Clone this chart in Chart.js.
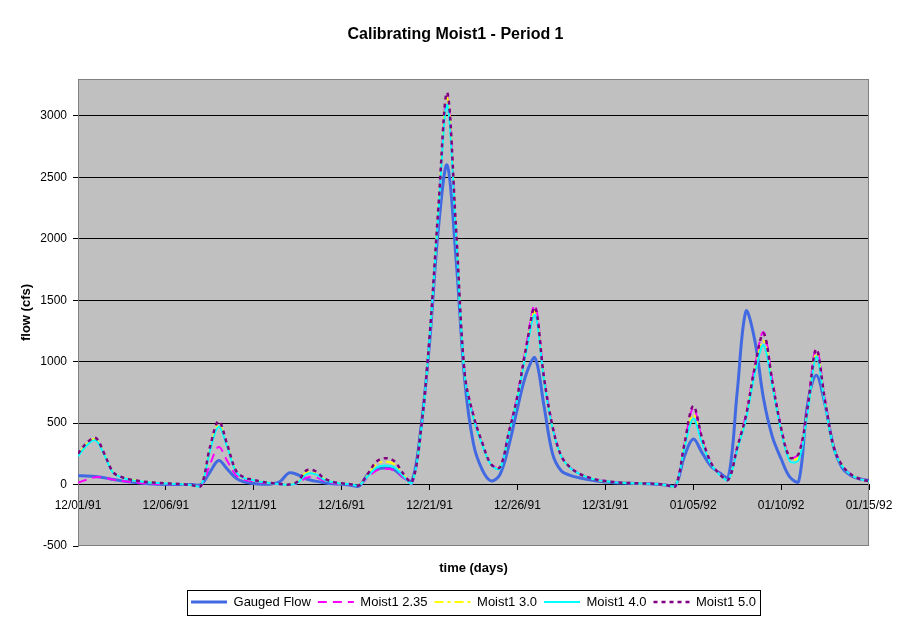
<!DOCTYPE html>
<html>
<head>
<meta charset="utf-8">
<script src="https://cdn.jsdelivr.net/npm/chart.js@4"></script>
<style>
  body { margin: 0; background: #fff; }
  canvas { display: block; }
</style>
</head>
<body>
<canvas id="flow-chart" width="911" height="623"></canvas>
<script>
// days since 12/01/91
const days = [0,0.5,1,1.5,2,2.5,3,3.5,4,4.5,5,5.5,6,6.5,7,7.5,8,8.5,9,9.5,
  10,10.5,11,11.5,12,12.5,13,13.5,14,14.5,15,15.5,16,16.5,17,17.5,18,18.5,19,19.5,
  20,20.5,21,21.5,22,22.5,23,23.5,24,24.5,25,25.5,26,26.5,27,27.5,28,28.5,29,29.5,
  30,30.5,31,31.5,32,32.5,33,33.5,34,34.5,35,35.5,36,36.5,37,37.5,38,38.5,39,39.5,
  40,40.5,41,41.5,42,42.5,43,43.5,44,44.5,45];

const yTicks = [-500, 0, 500, 1000, 1500, 2000, 2500, 3000];

const gaugedFlow = [
  72, 70, 65, 55, 42, 30, 20, 12, 7, 3,
  1, 0, 0, 0, 0, 100, 195, 125, 50, 20,
  8, 3, 5, 25, 95, 80, 45, 28, 15, 6,
  2, -5, -12, 85, 125, 135, 120, 60, 30, 450,
  1150, 2080, 2600, 1850, 850, 330, 120, 30, 80, 310,
  620, 900, 1030, 650, 250, 110, 75, 55, 40, 28,
  20, 15, 12, 10, 8, 6, 3, -5, -8, 230,
  370, 260, 150, 95, 60, 750, 1410, 1175, 700, 390,
  210, 60, 25, 650, 890, 650, 300, 130, 70, 45,
  33];

const moist235 = [
  15, 40, 60, 55, 40, 28, 20, 13, 8, 5,
  3, 2, 1, -3, -8, 160, 305, 190, 75, 38,
  25, 15, 8, 3, 0, 10, 55, 60, 30, 12,
  5, 1, -5, 60, 115, 128, 115, 60, 8, 400,
  1170, 2200, 3160, 2080, 900, 560, 330, 165, 140, 425,
  730, 1130, 1460, 890, 475, 232, 140, 90, 60, 40,
  28, 20, 15, 12, 10, 8, 5, -5, -12, 330,
  620, 375, 180, 85, 40, 300, 570, 960, 1240, 850,
  465, 222, 250, 625, 1110, 685, 300, 150, 80, 45,
  27];

const moist30 = [
  240, 330, 370, 245, 98, 59, 39, 27, 19, 13,
  9, 5, 2, -5, -10, 285, 490, 310, 105, 52,
  36, 21, 11, 4, -1, 20, 100, 98, 45, 20,
  9, 2, -5, 80, 170, 185, 165, 80, 15, 420,
  1190, 2230, 3150, 2080, 890, 550, 325, 162, 135, 415,
  710, 1100, 1410, 870, 462, 228, 138, 89, 59, 39,
  27, 19, 14, 11, 9, 7, 4, -5, -12, 315,
  570, 355, 175, 82, 39, 290, 545, 925, 1170, 820,
  450, 205, 225, 600, 1070, 665, 295, 148, 79, 45,
  26];

const moist40 = [
  230, 320, 360, 240, 95, 58, 38, 26, 18, 12,
  8, 5, 2, -5, -10, 270, 470, 300, 100, 50,
  35, 20, 10, 3, -2, 15, 85, 85, 40, 18,
  8, 2, -5, 70, 140, 155, 140, 70, 12, 410,
  1180, 2200, 3090, 2050, 880, 540, 320, 160, 130, 410,
  700, 1080, 1380, 860, 455, 225, 135, 88, 58, 38,
  27, 19, 14, 11, 9, 7, 4, -5, -12, 300,
  535, 340, 170, 80, 38, 280, 530, 900, 1135, 800,
  440, 190, 200, 580, 1040, 650, 290, 145, 78, 44,
  26];

const moist50 = [
  250, 340, 380, 250, 100, 60, 40, 28, 20, 14,
  10, 6, 3, -5, -10, 300, 515, 320, 110, 55,
  38, 22, 12, 5, 0, 25, 115, 110, 50, 22,
  10, 3, -5, 90, 190, 215, 190, 90, 20, 430,
  1200, 2250, 3190, 2100, 900, 560, 340, 165, 140, 420,
  720, 1120, 1440, 880, 470, 230, 140, 90, 60, 40,
  28, 20, 15, 12, 10, 8, 5, -5, -12, 330,
  640, 380, 180, 85, 40, 300, 560, 950, 1230, 840,
  460, 220, 250, 620, 1100, 680, 300, 150, 80, 45,
  27];

const startDate = Date.UTC(1991, 11, 1);
const pad = (n) => String(n).padStart(2, '0');
function dayLabel(v) {
    const d = new Date(startDate + v * 86400000);
    return pad(d.getUTCMonth() + 1) + '/' + pad(d.getUTCDate()) + '/' + String(d.getUTCFullYear()).slice(2);
}

Chart.defaults.font.family = "'Liberation Sans', Arial, sans-serif";
Chart.defaults.color = '#000';

// gray plot area with a thin border, like the old spreadsheet chart
const plotBackground = {
    id: 'plotBackground',
    beforeDraw(chart) {
        const {ctx, chartArea: a} = chart;
        ctx.save();
        ctx.fillStyle = '#C0C0C0';
        ctx.fillRect(a.left, a.top, a.right - a.left, a.bottom - a.top);
        ctx.restore();
    },
    beforeDatasetsDraw(chart) {
        const {ctx, chartArea: a} = chart;
        ctx.save();
        ctx.strokeStyle = '#808080';
        ctx.lineWidth = 1;
        ctx.strokeRect(Math.round(a.left) + 0.5, Math.round(a.top) + 0.5,
            Math.round(a.right - a.left) - 1, Math.round(a.bottom - a.top) - 1);
        ctx.restore();
    }
};

// box around the legend
const legendFrame = {
    id: 'legendFrame',
    afterDraw(chart) {
        const boxes = chart.legend && chart.legend.legendHitBoxes;
        if (!boxes || !boxes.length) return;
        const left = Math.min(...boxes.map(b => b.left)) - 4;
        const right = Math.max(...boxes.map(b => b.left + b.width)) + 4;
        const top = boxes[0].top - 6;
        const bottom = boxes[0].top + boxes[0].height + 6;
        const ctx = chart.ctx;
        ctx.save();
        ctx.strokeStyle = '#000';
        ctx.lineWidth = 1;
        ctx.strokeRect(Math.round(left) + 0.5, Math.round(top) + 0.5, Math.round(right - left), Math.round(bottom - top));
        ctx.restore();
    }
};

const lineBase = {
    pointRadius: 0,
    pointHoverRadius: 0,
    pointStyle: 'line',
    tension: 0.35,
    fill: false
};

new Chart(document.getElementById('flow-chart'), {
    type: 'line',
    data: {
        labels: days,
        datasets: [
            Object.assign({}, lineBase, {label: 'Gauged Flow', data: gaugedFlow, borderColor: '#4169E1', backgroundColor: '#4169E1', borderWidth: 3, order: 5}),
            Object.assign({}, lineBase, {label: 'Moist1 2.35', data: moist235, borderColor: '#FF00FF', backgroundColor: '#FF00FF', borderWidth: 2, borderDash: [9, 6], order: 4}),
            Object.assign({}, lineBase, {label: 'Moist1 3.0', data: moist30, borderColor: '#FFFF00', backgroundColor: '#FFFF00', borderWidth: 2, borderDash: [9, 4, 3, 4], order: 3}),
            Object.assign({}, lineBase, {label: 'Moist1 4.0', data: moist40, borderColor: '#00FFFF', backgroundColor: '#00FFFF', borderWidth: 2, order: 2}),
            Object.assign({}, lineBase, {label: 'Moist1 5.0', data: moist50, borderColor: '#800080', backgroundColor: '#800080', borderWidth: 2.5, borderDash: [4, 4], order: 1})
        ]
    },
    options: {
        responsive: false,
        devicePixelRatio: 1,
        animation: false,
        layout: { padding: { left: 0, right: 0, top: 0, bottom: 4.5 } },
        scales: {
            x: {
                type: 'linear',
                position: { y: 0 },
                min: 0,
                max: 45,
                ticks: {
                    stepSize: 5,
                    padding: 9,
                    maxRotation: 0,
                    font: { size: 12 },
                    callback: (v) => dayLabel(v)
                },
                grid: { drawOnChartArea: false, color: '#000', tickLength: 5 },
                border: { color: '#000', width: 1 }
            },
            y: {
                min: -500,
                max: 3300,
                ticks: { padding: 6, font: { size: 12 }, callback: (v) => String(v) },
                afterBuildTicks: (scale) => { scale.ticks = yTicks.map(v => ({ value: v })); },
                afterFit: (scale) => { scale.width = 78; },
                grid: {
                    color: (c) => (c.tick && c.tick.value === -500) ? 'rgba(0,0,0,0)' : '#000',
                    tickColor: '#000',
                    tickLength: 5
                },
                border: { color: '#808080' },
                title: {
                    display: true,
                    text: 'flow (cfs)',
                    font: { size: 13, weight: 'bold' },
                    padding: { top: 19, bottom: 0 }
                }
            },
            spacer: {
                type: 'linear',
                position: 'right',
                display: true,
                ticks: { display: false },
                grid: { display: false },
                border: { display: false },
                afterFit: (scale) => { scale.width = 42; }
            }
        },
        plugins: {
            title: {
                display: true,
                text: 'Calibrating Moist1 - Period 1',
                font: { size: 16, weight: 'bold' },
                color: '#000',
                padding: { top: 25.4, bottom: 34.4 }
            },
            subtitle: {
                display: true,
                text: 'time (days)',
                position: 'bottom',
                fullSize: false,
                weight: 500,
                font: { size: 13, weight: 'bold' },
                color: '#000',
                padding: { top: 14.2, bottom: 12.7 }
            },
            legend: {
                position: 'bottom',
                fullSize: false,
                labels: {
                    usePointStyle: true,
                    pointStyle: 'line',
                    pointStyleWidth: 36,
                    padding: 7,
                    font: { size: 13 },
                    color: '#000',
                    sort: (a, b) => a.datasetIndex - b.datasetIndex,
                    generateLabels: (chart) => {
                        const items = Chart.defaults.plugins.legend.labels.generateLabels(chart);
                        items.forEach((item) => {
                            const ds = chart.data.datasets[item.datasetIndex];
                            item.lineDash = ds.borderDash || [];
                            item.lineWidth = ds.borderWidth;
                            item.strokeStyle = ds.borderColor;
                            item.fillStyle = ds.borderColor;
                        });
                        return items;
                    }
                }
            },
            tooltip: { enabled: false }
        }
    },
    plugins: [plotBackground, legendFrame]
});
</script>
</body>
</html>
